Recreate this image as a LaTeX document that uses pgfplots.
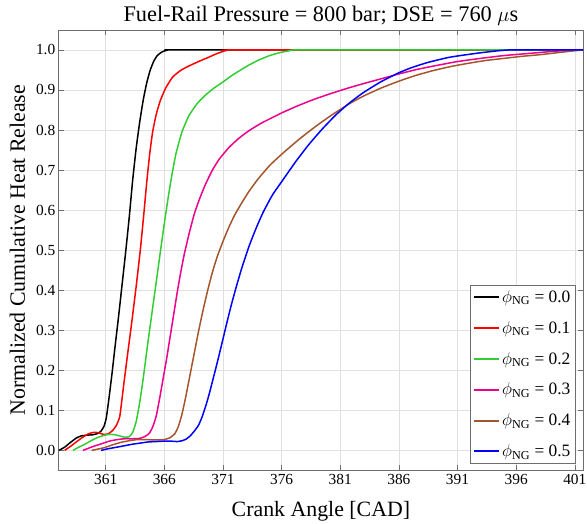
\documentclass[border=0pt]{standalone}
\usepackage{fontspec}
\setmainfont{Liberation Serif}
\usepackage{pgfplots}
\pgfplotsset{compat=1.18}
\definecolor{mgreen}{RGB}{50,205,50}
\definecolor{mbrown}{RGB}{165,85,45}
\definecolor{axgray}{RGB}{110,110,110}
\begin{document}
\begin{tikzpicture}
\begin{axis}[
  name=ax,
  scale only axis,
  width=526bp, height=442bp,
  xmin=357, xmax=401.7, ymin=-0.05, ymax=1.05,
  xtick={361,366,371,376,381,386,391,396,401},
  ytick={0,0.1,0.2,0.3,0.4,0.5,0.6,0.7,0.8,0.9,1.0},
  yticklabel style={/pgf/number format/.cd, fixed, fixed zerofill, precision=1},
  /pgf/number format/assume math mode=true,
  tick label style={font=\fontsize{15.5}{18}\selectfont},
  grid=major,
  major grid style={black!12, line width=0.5bp},
  axis line style={axgray, line width=0.6bp},
  tick style={axgray, line width=0.6bp},
  major tick length=5bp,
  tick align=inside,
  title={Fuel-Rail Pressure = 800 bar; DSE = 760 $\mu$s},
  title style={at={(axis description cs:0.5,1.0045)}, anchor=base, font=\fontsize{22.5}{26}\selectfont, inner sep=0pt},
  xlabel={Crank Angle [CAD]},
  xlabel style={at={(axis description cs:0.5,-0.104)}, anchor=base, font=\fontsize{22}{26}\selectfont, inner sep=0pt},
  ylabel={Normalized Cumulative Heat Release},
  ylabel style={at={(axis description cs:-0.0646,0.5)}, anchor=base, font=\fontsize{22}{26}\selectfont, inner sep=0pt},
  legend style={at={(axis description cs:0.985,0.016)}, anchor=south east, draw=axgray, line width=0.6bp,
    font=\fontsize{17.5}{19}\selectfont, row sep=17.5bp, inner xsep=2.5bp, inner ysep=5bp,
    nodes={inner xsep=2bp, inner ysep=0bp}},
  legend cell align=left,
  legend image code/.code={\draw[#1, line width=2bp] (0bp,0bp) -- (25bp,0bp);},
  every axis plot/.append style={line width=1.5bp, smooth, tension=0.3},
]
\addplot[black] coordinates {
(357.0,0.000)(357.5,0.008)(358.0,0.020)(358.5,0.031)(358.9,0.036)(359.4,0.038)(359.9,0.039)
(360.3,0.042)(360.6,0.048)(360.85,0.060)(361.05,0.081)(361.3,0.135)(361.55,0.195)(361.8,0.26)
(362.1,0.335)(362.4,0.415)(362.7,0.495)(363.0,0.58)(363.3,0.675)(363.6,0.755)(363.9,0.82)
(364.2,0.875)(364.5,0.918)(364.8,0.95)(365.1,0.972)(365.4,0.986)(365.8,0.995)(366.2,0.999)
(366.6,1.000)(380,1.000)(401.7,1.000)};
\addlegendentry{$\phi_{\mathrm{NG}}$ = 0.0}
\addplot[red] coordinates {
(357.5,0.000)(358.0,0.010)(358.4,0.019)(358.9,0.030)(359.5,0.041)(360.0,0.045)(360.4,0.044)
(360.8,0.040)(361.2,0.041)(361.6,0.050)(361.9,0.062)(362.2,0.085)(362.5,0.155)(362.8,0.225)
(363.2,0.315)(363.6,0.41)(363.95,0.50)(364.25,0.59)(364.5,0.67)(364.75,0.74)(365.0,0.795)
(365.3,0.838)(365.65,0.873)(366.1,0.904)(366.7,0.932)(367.4,0.949)(368.1,0.960)(369.0,0.972)
(369.8,0.982)(370.5,0.991)(371.2,0.998)(371.8,1.000)(385,1.000)(401.7,1.000)};
\addlegendentry{$\phi_{\mathrm{NG}}$ = 0.1}
\addplot[mgreen] coordinates {
(358.2,0.000)(358.7,0.008)(359.2,0.015)(359.8,0.025)(360.3,0.032)(360.8,0.037)(361.3,0.040)
(361.8,0.039)(362.2,0.036)(362.6,0.033)(363.0,0.034)(363.3,0.045)(363.6,0.072)(363.9,0.12)
(364.2,0.18)(364.6,0.27)(365.0,0.355)(365.4,0.44)(365.75,0.515)(366.1,0.587)(366.4,0.645)
(366.7,0.697)(367.0,0.742)(367.5,0.795)(368.1,0.836)(368.8,0.866)(369.5,0.887)(370.2,0.904)
(371.0,0.920)(371.7,0.935)(372.4,0.948)(373.2,0.962)(374.0,0.974)(374.9,0.985)(375.8,0.993)
(376.7,0.998)(377.5,1.000)(390,1.000)(401.7,1.000)};
\addlegendentry{$\phi_{\mathrm{NG}}$ = 0.2}
\addplot[magenta] coordinates {
(359.06,0.000)(359.5,0.005)(360.06,0.011)(360.7,0.017)(361.3,0.023)(362.0,0.027)(362.6,0.029)
(363.3,0.029)(363.9,0.030)(364.3,0.034)(364.7,0.042)(365.0,0.058)(365.3,0.085)(365.6,0.13)
(365.9,0.18)(366.2,0.23)(366.5,0.285)(366.8,0.34)(367.1,0.395)(367.4,0.445)(367.7,0.49)
(368.1,0.54)(368.55,0.59)(369.0,0.628)(369.5,0.664)(370.1,0.700)(370.7,0.728)(371.5,0.756)
(372.3,0.778)(373.2,0.798)(374.2,0.816)(375.2,0.831)(376.1,0.844)(377.5,0.862)(378.9,0.878)
(380.3,0.892)(381.7,0.905)(383.0,0.916)(384.5,0.928)(386.0,0.940)(387.5,0.951)(389.0,0.960)
(391.0,0.971)(393.0,0.979)(395.0,0.986)(397.0,0.991)(399.0,0.996)(400.5,0.999)(401.7,1.000)};
\addlegendentry{$\phi_{\mathrm{NG}}$ = 0.3}
\addplot[mbrown] coordinates {
(359.8,0.000)(360.3,0.003)(360.9,0.007)(361.6,0.014)(362.3,0.020)(363.0,0.024)(363.7,0.027)
(364.4,0.027)(365.2,0.026)(366.0,0.027)(366.5,0.032)(366.9,0.042)(367.2,0.060)(367.5,0.090)
(367.8,0.13)(368.1,0.175)(368.5,0.235)(368.9,0.295)(369.3,0.35)(369.7,0.40)(370.1,0.445)
(370.5,0.483)(371.0,0.522)(371.5,0.557)(372.0,0.588)(372.6,0.618)(373.2,0.646)(374.0,0.678)
(375.0,0.712)(376.1,0.742)(377.5,0.777)(378.9,0.809)(380.3,0.838)(381.8,0.866)(383.0,0.885)
(384.5,0.905)(386.0,0.922)(387.4,0.936)(389.0,0.949)(390.5,0.959)(392.0,0.967)(393.5,0.974)
(395.0,0.979)(396.5,0.984)(398.0,0.988)(399.5,0.993)(400.7,0.997)(401.7,1.000)};
\addlegendentry{$\phi_{\mathrm{NG}}$ = 0.4}
\addplot[blue] coordinates {
(360.6,0.000)(361.2,0.004)(361.76,0.007)(362.5,0.011)(363.2,0.015)(363.9,0.018)(364.6,0.021)
(365.3,0.022)(366.0,0.023)(366.6,0.023)(367.1,0.022)(367.5,0.024)(367.85,0.028)(368.2,0.036)
(368.55,0.048)(368.9,0.062)(369.2,0.082)(369.5,0.108)(369.8,0.138)(370.1,0.172)(370.5,0.218)
(370.9,0.266)(371.3,0.315)(371.7,0.362)(372.1,0.405)(372.6,0.455)(373.2,0.508)(373.8,0.553)
(374.4,0.593)(375.2,0.637)(376.1,0.675)(377.2,0.721)(378.3,0.763)(379.45,0.802)(380.6,0.837)
(381.8,0.868)(383.0,0.894)(384.5,0.921)(386.0,0.943)(387.1,0.956)(388.5,0.969)(390.2,0.981)
(391.5,0.987)(393.0,0.993)(394.5,0.998)(395.5,1.000)(398,1.000)(401.7,1.000)};
\addlegendentry{$\phi_{\mathrm{NG}}$ = 0.5}
\end{axis}
\pgfresetboundingbox
\path ([shift={(-59bp,-53bp)}]ax.south west) rectangle ([shift={(530bp,472bp)}]ax.south west);
\end{tikzpicture}
\end{document}
